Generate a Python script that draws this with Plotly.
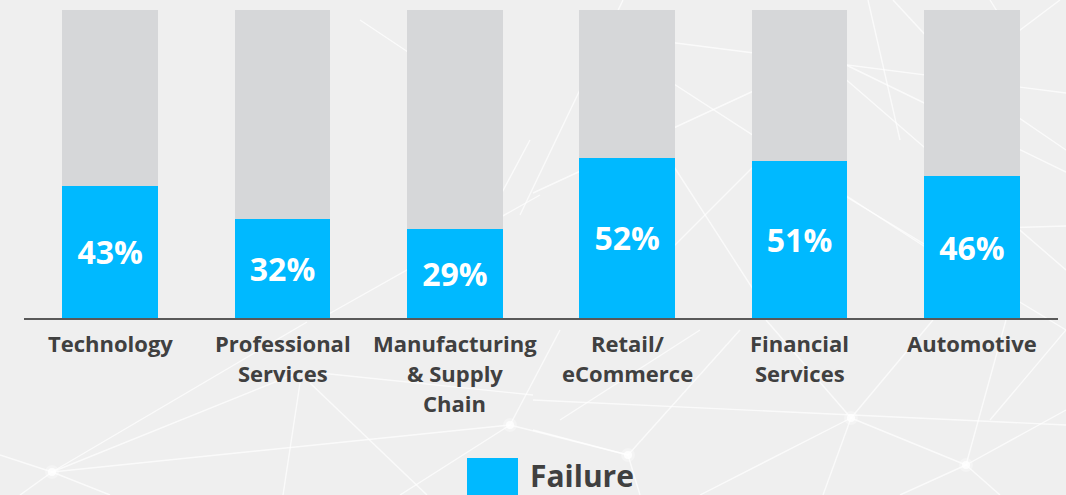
import plotly.graph_objects as go

# Share of projects that failed, by industry
industries = [
    "Technology",
    "Professional Services",
    "Manufacturing & Supply Chain",
    "Retail/ eCommerce",
    "Financial Services",
    "Automotive",
]
industry_lines = [
    ["Technology"],
    ["Professional", "Services"],
    ["Manufacturing", "& Supply", "Chain"],
    ["Retail/", "eCommerce"],
    ["Financial", "Services"],
    ["Automotive"],
]
failure_pct = [43, 32, 29, 52, 51, 46]
remainder_pct = [100 - v for v in failure_pct]

BLUE = "#00B9FF"
GREY = "#D6D7D9"
BG = "#EFEFEF"
TEXT = "#404040"
FONT = "Open Sans"

W, H = 1066, 495
ML, MR, MT, MB = 24, 8, 10, 177
PW, PH = W - ML - MR, H - MT - MB


def px(x):
    return (x - ML) / PW


def py(y):
    return (H - MB - y) / PH


fig = go.Figure()
fig.add_trace(go.Bar(
    x=industries, y=failure_pct, name="Failure",
    marker=dict(color=BLUE, line=dict(width=0)),
    text=[f"{v}%" for v in failure_pct], textposition="inside",
    insidetextanchor="middle", textangle=0,
    textfont=dict(family=FONT, size=32, color="white", weight="bold"),
    showlegend=False, hoverinfo="skip",
))
fig.add_trace(go.Bar(
    x=industries, y=remainder_pct, name="Other",
    marker=dict(color=GREY, line=dict(width=0)),
    showlegend=False, hoverinfo="skip",
))

# faint network pattern in the background (pixel coordinates of the page)
net_lines = [
    (533, 193, 760, 88), (623, 0, 520, 215), (660, 41, 1066, 93),
    (660, 75, 930, 250), (660, 145, 760, 300), (840, 62, 1066, 172),
    (835, 70, 1066, 270), (660, 260, 760, 160), (835, 190, 1066, 330),
    (868, 0, 900, 140), (893, 0, 930, 40), (990, 0, 1015, 40),
    (1060, 0, 1000, 45), (1000, 105, 1066, 150), (1000, 228, 1066, 226),
    (327, 315, 540, 195), (490, 215, 530, 140), (360, 20, 420, 60),
    (52, 472, 510, 425), (52, 472, 307, 322), (52, 472, 300, 372),
    (0, 455, 52, 472), (52, 472, 20, 495), (52, 472, 110, 495),
    (300, 383, 283, 495), (310, 383, 427, 495), (320, 373, 533, 395),
    (510, 425, 400, 495), (510, 425, 628, 455), (510, 425, 560, 330),
    (533, 400, 1066, 425), (628, 455, 533, 430), (628, 455, 640, 495),
    (628, 455, 740, 330), (851, 418, 766, 320), (851, 418, 933, 320),
    (851, 418, 966, 465), (851, 418, 823, 495), (851, 418, 700, 495),
    (966, 465, 1066, 410), (966, 465, 1006, 320), (966, 465, 1000, 495),
    (966, 465, 900, 495), (1066, 330, 990, 420), (700, 330, 560, 420),
]
shapes = []
for x0, y0, x1, y1 in net_lines:
    shapes.append(dict(
        type="line", xref="paper", yref="paper", layer="below",
        x0=px(x0), y0=py(y0), x1=px(x1), y1=py(y1),
        line=dict(color="rgba(255,255,255,0.7)", width=1.4),
    ))
for nx, ny in [(52, 472), (510, 425), (628, 455), (851, 418), (966, 465)]:
    for r, a in [(7, 0.3), (4, 0.8)]:
        shapes.append(dict(
            type="circle", xref="paper", yref="paper", layer="below",
            x0=px(nx - r), x1=px(nx + r), y0=py(ny - r), y1=py(ny + r),
            fillcolor=f"rgba(255,255,255,{a})", line=dict(width=0),
        ))

# legend swatch
shapes.append(dict(
    type="rect", xref="paper", yref="paper", layer="above",
    x0=px(467), x1=px(518), y0=py(458), y1=py(500),
    fillcolor=BLUE, line=dict(width=0),
))

annotations = [dict(
    text="Failure", xref="paper", yref="paper",
    x=px(528), y=py(475), xanchor="left", yanchor="middle",
    showarrow=False,
    font=dict(family=FONT, size=30, color=TEXT, weight="bold"),
)]
# category labels, one annotation per text line for a 30 px line pitch
for cat, lines in zip(industries, industry_lines):
    for i, line in enumerate(lines):
        annotations.append(dict(
            text=line, x=cat, xref="x", yref="paper",
            y=py(343 + 30 * i), xanchor="center", yanchor="middle",
            showarrow=False,
            font=dict(family=FONT, size=22, color=TEXT, weight="bold"),
        ))

fig.update_layout(
    width=W, height=H,
    margin=dict(l=ML, r=MR, t=MT, b=MB),
    paper_bgcolor=BG, plot_bgcolor=BG,
    barmode="stack", bargap=0.443,
    showlegend=False,
    shapes=shapes,
    annotations=annotations,
    xaxis=dict(
        showgrid=False, zeroline=False, showline=True,
        linecolor="#595959", linewidth=2, ticks="", showticklabels=False,
    ),
    yaxis=dict(range=[0, 100], visible=False, fixedrange=True),
)

fig.write_html("out.html")
